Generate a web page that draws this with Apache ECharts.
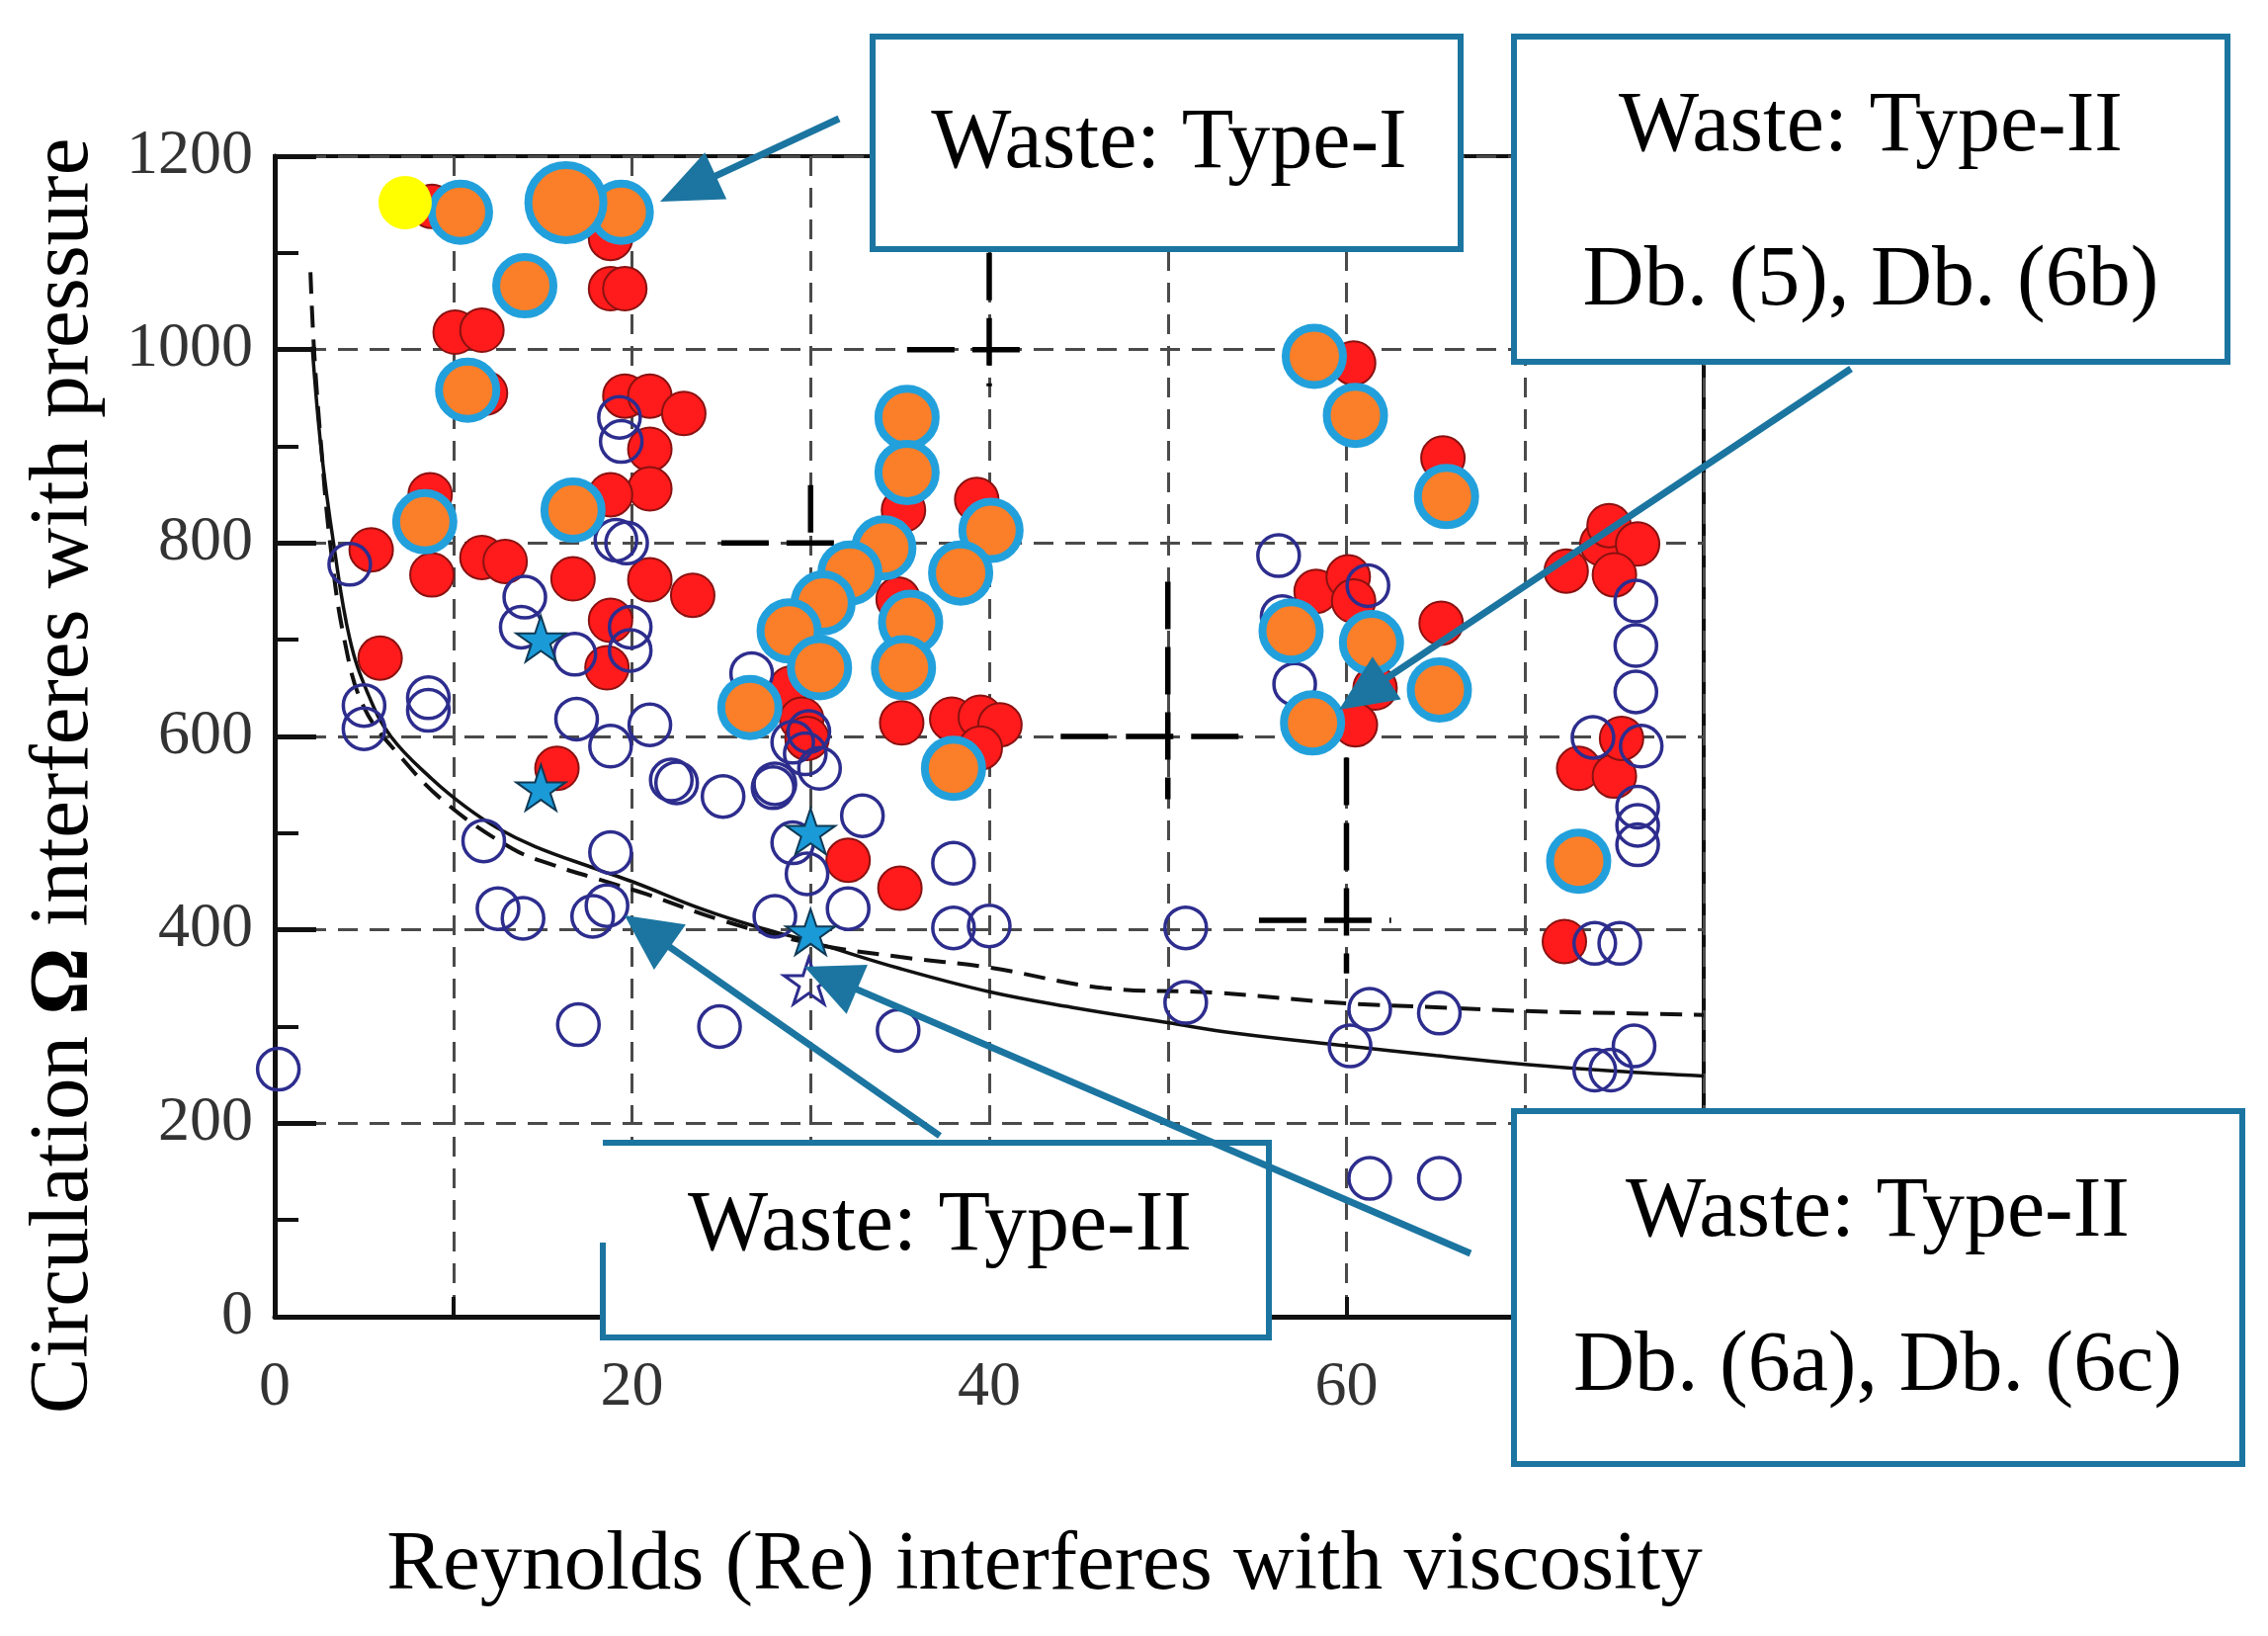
<!DOCTYPE html>
<html>
<head>
<meta charset="utf-8">
<script src="https://cdn.jsdelivr.net/npm/echarts@6/dist/echarts.min.js"></script>
<style>
html,body{margin:0;padding:0;background:#fff;}
#chart{width:2295px;height:1655px;}
</style>
</head>
<body>
<div id="chart"></div>
<script>
// ---------------- data ----------------
const xTicks = [0, 20, 40, 60, 80];
const yTicks = [0, 200, 400, 600, 800, 1000, 1200];

const redPoints = [
  [8.8,1148],[18.8,1115],[18.8,1063],[19.6,1063],[10.1,1018],[11.6,1020],[11.8,955],
  [19.6,952],[21.0,952],[22.9,934],[21.0,897],[21.0,856],[18.8,850],[8.7,850],
  [5.4,793],[8.8,767],[11.6,785],[12.9,781],[16.7,763],[21.0,762],[23.4,746],
  [18.8,720],[18.6,671],[5.9,681],[15.8,567],
  [28.9,650],[29.5,618],[29.8,598],[35.2,834],[39.3,845],[34.9,742],
  [35.1,614],[37.9,618],[39.5,620],[40.6,612],[39.5,588],[32.1,472],[35.0,443],
  [60.4,986],[65.4,888],[65.3,717],[58.3,750],[60.1,765],[60.4,740],[61.6,650],[60.5,612],
  [72.3,771],[74.3,799],[74.7,818],[76.3,799],[75.0,767],
  [73.0,567],[75.0,559],[75.4,598],[72.2,388]
];

const navyRings = [
  [0.2,256],[4.2,778],[5.0,632],[5.0,608],[8.6,640],[8.6,627],
  [11.7,492],[12.5,422],[13.9,412],[14.0,744],[13.8,713],[16.8,685],[17.0,302],
  [17.8,414],[18.6,425],[18.8,480],[16.9,618],[18.8,590],[21.0,612],
  [19.3,930],[19.4,905],[19.1,803],[19.7,800],[19.9,713],[19.9,689],
  [22.2,555],[22.5,552],[24.9,300],[25.1,538],[26.7,665],[27.9,547],
  [29.0,490],[29.8,458],[28.0,414],[32.1,422],[32.9,518],
  [28.0,551],[29.0,594],[29.7,582],[30.5,567],[29.9,605],
  [38.0,469],[38.0,402],[40.0,404],[34.9,296],
  [51.0,402],[51.0,325],
  [56.2,787],[56.4,724],[57.1,654],[61.2,756],
  [61.3,318],[60.2,280],[65.2,314],[61.3,143],[65.2,143],
  [76.2,740],[76.2,694],[76.2,646],[76.5,590],[73.8,599],
  [76.3,527],[76.3,508],[76.3,488],[73.9,386],[75.3,386],
  [76.1,280],[73.9,255],[74.8,255]
];

const orangePoints = [
  [10.4,1142],[19.4,1142],[14.0,1066],[10.8,958],[8.4,822],[16.7,834],[26.6,630],
  [35.4,930],[35.4,873],[34.1,795],[32.2,769],[30.7,738],[28.8,709],[30.5,671],
  [35.6,718],[35.2,671],[40.1,813],[38.4,769],[38.0,567],
  [58.2,993],[60.5,932],[65.6,848],[56.9,709],[61.4,697],[65.2,648],[58.1,614],
  [73.0,471]
];
const orangeBig = [[16.3,1152]];
const yellowPoint = [[7.3,1152]];
const starsFilled = [[14.9,701],[14.9,547],[30.0,502],[30.0,398]];
const starsOpen = [[29.9,347]];

const solidCurve = [
  [2.1,1003],[2.6,897],[3.3,799],[4.2,701],[5.2,645],[6.5,600],[8.8,556],[10.7,527],
  [12.5,505],[14.6,486],[18.0,463],[20.0,450],[24.0,421],[27.2,402],[30.0,388],
  [35.0,360],[40.0,336],[44.6,320],[50.0,304],[53.8,293],[60.0,280],[65.0,270],
  [70.0,261],[75.0,254],[80.0,249]
];
const dashedCurve = [
  [2.0,1080],[2.2,1000],[2.6,900],[3.1,800],[3.9,700],[5.0,630],[7.0,580],[9.6,531],
  [13.3,484],[15.6,467],[18.0,453],[20.8,437],[25.0,410],[30.0,386],[35.0,372],
  [40.0,361],[46.4,340],[52.7,335],[60.0,324],[65.0,320],[70.0,316],[75.0,314],[80.0,312]
];
const blackDashSegments = [
  [[40,1100],[40,962]], [[35.4,1000],[42.6,1000]],
  [[30,860],[30,800]], [[25,800],[32.3,800]],
  [[50,760],[50,535]], [[44,600],[54,600]],
  [[60,578],[60,355]], [[55.1,410],[62.5,410]]
];

// ---------------- styling ----------------
const SERIF = '"Liberation Serif", "Times New Roman", serif';
const TEAL = '#1b75a0';
const NAVY = '#2d2d8e';
const STAR = 'path://M50,0 L61.8,35.4 L100,35.4 L69.1,57.3 L80.9,92.7 L50,70.8 L19.1,92.7 L30.9,57.3 L0,35.4 L38.2,35.4 Z';

const chart = echarts.init(document.getElementById('chart'), null, {renderer: 'canvas'});

function arrow(x1, y1, x2, y2, len, hw) {
  const dx = x2 - x1, dy = y2 - y1, L = Math.hypot(dx, dy);
  const ux = dx / L, uy = dy / L;
  const bx = x2 - ux * len, by = y2 - uy * len;
  return [
    {type: 'line', z: 110, shape: {x1: x1, y1: y1, x2: bx + ux * 4, y2: by + uy * 4},
     style: {stroke: TEAL, lineWidth: 7}},
    {type: 'polygon', z: 111, shape: {points: [[x2, y2], [bx - uy * hw, by + ux * hw], [bx + uy * hw, by - ux * hw]]},
     style: {fill: TEAL}}
  ];
}
function boxText(x, y, t) {
  return {type: 'text', z: 105, x: x, y: y,
    style: {text: t, fontSize: 86, fontFamily: SERIF, fill: '#000', align: 'center', verticalAlign: 'middle'}};
}

const graphics = [
  // box 1
  {type: 'rect', z: 100, shape: {x: 883, y: 37, width: 595, height: 215}, style: {fill: '#fff', stroke: TEAL, lineWidth: 6}},
  boxText(1183, 146, 'Waste: Type-I'),
  // box 2
  {type: 'rect', z: 100, shape: {x: 1532, y: 37, width: 722, height: 329}, style: {fill: '#fff', stroke: TEAL, lineWidth: 6}},
  boxText(1893, 129, 'Waste: Type-II'),
  boxText(1893, 285, 'Db. (5), Db. (6b)'),
  // box 3 (left edge partly open as in the original)
  {type: 'rect', z: 100, shape: {x: 610, y: 1156, width: 674, height: 197}, style: {fill: '#fff'}},
  {type: 'polyline', z: 101, shape: {points: [[610,1156],[1284,1156],[1284,1353],[610,1353],[610,1257]]},
   style: {stroke: TEAL, lineWidth: 6, fill: null}},
  boxText(951, 1241, 'Waste: Type-II'),
  // box 4
  {type: 'rect', z: 100, shape: {x: 1532, y: 1124, width: 737, height: 357}, style: {fill: '#fff', stroke: TEAL, lineWidth: 6}},
  boxText(1900, 1227, 'Waste: Type-II'),
  boxText(1900, 1383, 'Db. (6a), Db. (6c)'),
  // axis titles
  {type: 'text', z: 105, x: 1057, y: 1585,
   style: {text: 'Reynolds (Re) interferes with viscosity', fontSize: 85, fontFamily: SERIF, fill: '#000', align: 'center', verticalAlign: 'middle'}},
  {type: 'text', z: 105, x: 66, y: 785, rotation: Math.PI / 2,
   style: {text: '{a|Circulation }{b|Ω}{a| interferes with pressure}', align: 'center', verticalAlign: 'middle',
     rich: {a: {fontSize: 85, fontFamily: SERIF, fill: '#000'}, b: {fontSize: 85, fontFamily: SERIF, fontWeight: 'bold', fill: '#000'}}}}
].concat(
  arrow(849, 120, 668, 204, 62, 26),
  arrow(1873, 373, 1355, 718, 58, 26),
  arrow(951, 1149, 632, 926, 56, 28),
  arrow(1488, 1268, 814, 978, 58, 27)
);

const dashSeries = blackDashSegments.map(seg => ({
  type: 'line', data: seg, showSymbol: false, silent: true, z: 1,
  lineStyle: {color: '#000', width: 5.5, type: [48, 18]}
}));

const option = {
  animation: false,
  backgroundColor: '#fff',
  grid: {left: 278, right: 571, top: 158, bottom: 323, show: true, borderColor: '#111', borderWidth: 4, backgroundColor: 'transparent'},
  xAxis: {
    type: 'value', min: 0, max: 80, interval: 10,
    axisLine: {show: true, onZero: false, lineStyle: {color: '#111', width: 5}},
    axisTick: {show: true, inside: true, length: 20, lineStyle: {color: '#111', width: 4}},
    axisLabel: {margin: 40, fontSize: 64, fontFamily: SERIF, color: '#333',
      formatter: v => (xTicks.indexOf(v) >= 0 ? String(v) : '')},
    splitLine: {show: true, lineStyle: {color: '#4a4a4a', width: 3, type: [20, 12]}}
  },
  yAxis: {
    type: 'value', min: 0, max: 1200, interval: 200,
    axisLine: {show: true, onZero: false, lineStyle: {color: '#111', width: 5}},
    axisTick: {show: true, inside: true, length: 42, lineStyle: {color: '#111', width: 5}},
    minorTick: {show: true, splitNumber: 2, length: 24, lineStyle: {color: '#111', width: 4}},
    axisLabel: {margin: 22, fontSize: 64, fontFamily: SERIF, color: '#333',
      formatter: v => (yTicks.indexOf(v) >= 0 ? String(v) : '')},
    splitLine: {show: true, lineStyle: {color: '#4a4a4a', width: 3, type: [20, 12]}}
  },
  graphic: {elements: graphics},
  series: dashSeries.concat([
    {type: 'line', data: solidCurve, smooth: 0.4, showSymbol: false, silent: true, z: 2,
     lineStyle: {color: '#111', width: 3.5}},
    {type: 'line', data: dashedCurve, smooth: 0.4, showSymbol: false, silent: true, z: 2,
     lineStyle: {color: '#111', width: 4, type: [22, 12]}},
    {type: 'scatter', data: redPoints, symbolSize: 44, clip: false, z: 3,
     itemStyle: {color: '#ff1b1b', borderColor: '#8a1111', borderWidth: 2, opacity: 1}},
    {type: 'scatter', data: navyRings, symbolSize: 42, clip: false, z: 4,
     itemStyle: {color: 'rgba(0,0,0,0)', borderColor: NAVY, borderWidth: 3.5, opacity: 1}},
    {type: 'scatter', data: starsFilled, symbol: STAR, symbolSize: 50, symbolKeepAspect: true, clip: false, z: 5,
     itemStyle: {color: '#1b9ad8', borderColor: '#103a55', borderWidth: 2, opacity: 1}},
    {type: 'scatter', data: starsOpen, symbol: STAR, symbolSize: 50, symbolKeepAspect: true, clip: false, z: 5,
     itemStyle: {color: 'rgba(0,0,0,0)', borderColor: NAVY, borderWidth: 3, opacity: 1}},
    {type: 'scatter', data: orangePoints, symbolSize: 58, clip: false, z: 6,
     itemStyle: {color: '#fb7f28', borderColor: '#22a0dc', borderWidth: 8, opacity: 1}},
    {type: 'scatter', data: orangeBig, symbolSize: 76, clip: false, z: 6,
     itemStyle: {color: '#fb7f28', borderColor: '#22a0dc', borderWidth: 8, opacity: 1}},
    {type: 'scatter', data: yellowPoint, symbolSize: 54, clip: false, z: 7,
     itemStyle: {color: '#ffff00', opacity: 1}}
  ])
};
chart.setOption(option);
</script>
</body>
</html>
